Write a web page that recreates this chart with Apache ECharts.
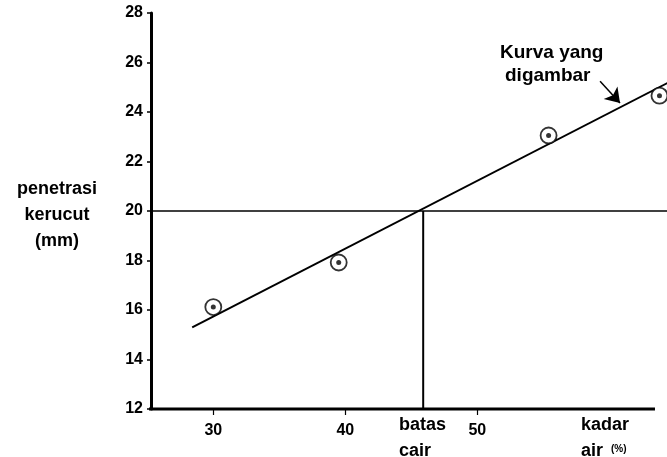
<!DOCTYPE html>
<html><head><meta charset="utf-8">
<script src="https://cdn.jsdelivr.net/npm/echarts@6/dist/echarts.min.js"></script>
<style>html,body{margin:0;padding:0;background:#fff}#c{width:667px;height:457px}</style>
</head><body><div id="c"></div>
<script>
// ---- data ----
const xTickValues = [30, 40, 50];
const yTickValues = [12, 14, 16, 18, 20, 22, 24, 26, 28];
const waterContent = [30.0, 39.5, 55.4, 63.8];      // kadar air (%)
const conePenetration = [16.12, 17.92, 23.05, 24.66]; // penetrasi kerucut (mm)
const fittedX = [28.4, 64.4];
const fittedY = [15.3, 25.17];
const liquidLimit = 45.9;      // batas cair
const referencePenetration = 20;
const arrowTail = [59.3, 25.24];
const arrowTip = [60.81, 24.36];
const xRange = [25.28, 64.37];
const yRange = [12, 28];

const chart = echarts.init(document.getElementById('c'));
const FONT = '"Liberation Sans", Arial, sans-serif';
const black = '#000';

const pts = waterContent.map((x, i) => [x, conePenetration[i]]);
const fitted = fittedX.map((x, i) => [x, fittedY[i]]);

chart.setOption({
  animation: false,
  backgroundColor: '#fff',
  grid: { left: 151, right: 0, top: 13, bottom: 48, containLabel: false },
  xAxis: {
    type: 'value', min: xRange[0], max: xRange[1],
    axisLine: { show: false },
    splitLine: { show: false },
    axisTick: { show: true, customValues: xTickValues, length: 6, lineStyle: { color: black, width: 1.2 } },
    axisLabel: { customValues: xTickValues, color: black, fontFamily: FONT, fontWeight: 'bold', fontSize: 16, margin: 14 }
  },
  yAxis: {
    type: 'value', min: yRange[0], max: yRange[1], interval: 2,
    axisLine: { show: true, onZero: false, lineStyle: { color: black, width: 3 } },
    splitLine: { show: false },
    axisTick: { show: true, length: 4, lineStyle: { color: black, width: 1.5 } },
    axisLabel: { color: black, fontFamily: FONT, fontWeight: 'bold', fontSize: 16, margin: 8 }
  },
  series: [
    { // x-axis baseline
      type: 'line', data: [[xRange[0] - 0.7, yRange[0]], [63.46, yRange[0]]], symbol: 'none', clip: false,
      lineStyle: { color: black, width: 3 }, z: 3, silent: true
    },
    { // reference horizontal line at 20 mm
      type: 'line', data: [[xRange[0], referencePenetration], [xRange[1], referencePenetration]], symbol: 'none', clip: false,
      lineStyle: { color: black, width: 1.3 }, z: 2, silent: true
    },
    { // vertical line at liquid limit
      type: 'line', data: [[liquidLimit, referencePenetration], [liquidLimit, yRange[0]]], symbol: 'none', clip: false,
      lineStyle: { color: black, width: 2 }, z: 2, silent: true
    },
    { // drawn curve
      type: 'line', data: fitted, symbol: 'none', clip: false,
      lineStyle: { color: black, width: 2 }, z: 3, silent: true,
      markLine: {
        silent: true, symbol: ['none', 'arrow'], symbolSize: 14, animation: false,
        label: { show: false },
        itemStyle: { color: black },
        lineStyle: { color: black, width: 1.5, type: 'solid' },
        data: [[{ coord: arrowTail }, { coord: arrowTip }]]
      }
    },
    { // ringed points
      type: 'scatter', data: pts, symbol: 'circle', symbolSize: 16, clip: false,
      itemStyle: { color: '#fff', borderColor: black, borderWidth: 1.8 }, z: 5, silent: true
    },
    { // centre dots
      type: 'scatter', data: pts, symbol: 'circle', symbolSize: 5, clip: false,
      itemStyle: { color: black }, z: 6, silent: true
    }
  ],
  graphic: [
    { type: 'text', z: 10, x: 57, y: 215, style: {
        text: 'penetrasi\nkerucut\n(mm)', align: 'center', verticalAlign: 'middle',
        font: 'bold 18px ' + FONT, lineHeight: 26, fill: black } },
    { type: 'text', x: 500, y: 53, style: { text: 'Kurva yang', align: 'left', verticalAlign: 'middle', font: 'bold 19px ' + FONT, fill: black } },
    { type: 'text', x: 505, y: 76, style: { text: 'digambar', align: 'left', verticalAlign: 'middle', font: 'bold 19px ' + FONT, fill: black } },
    { type: 'text', x: 399, y: 425, style: { text: 'batas', align: 'left', verticalAlign: 'middle', font: 'bold 18px ' + FONT, fill: black } },
    { type: 'text', x: 399, y: 451, style: { text: 'cair', align: 'left', verticalAlign: 'middle', font: 'bold 18px ' + FONT, fill: black } },
    { type: 'text', x: 581, y: 425, style: { text: 'kadar', align: 'left', verticalAlign: 'middle', font: 'bold 18px ' + FONT, fill: black } },
    { type: 'text', x: 581, y: 451, style: { text: 'air', align: 'left', verticalAlign: 'middle', font: 'bold 18px ' + FONT, fill: black } },
    { type: 'text', x: 611, y: 449, style: { text: '(%)', align: 'left', verticalAlign: 'middle', font: 'bold 10px ' + FONT, fill: black } }
  ]
});
</script>
</body></html>
